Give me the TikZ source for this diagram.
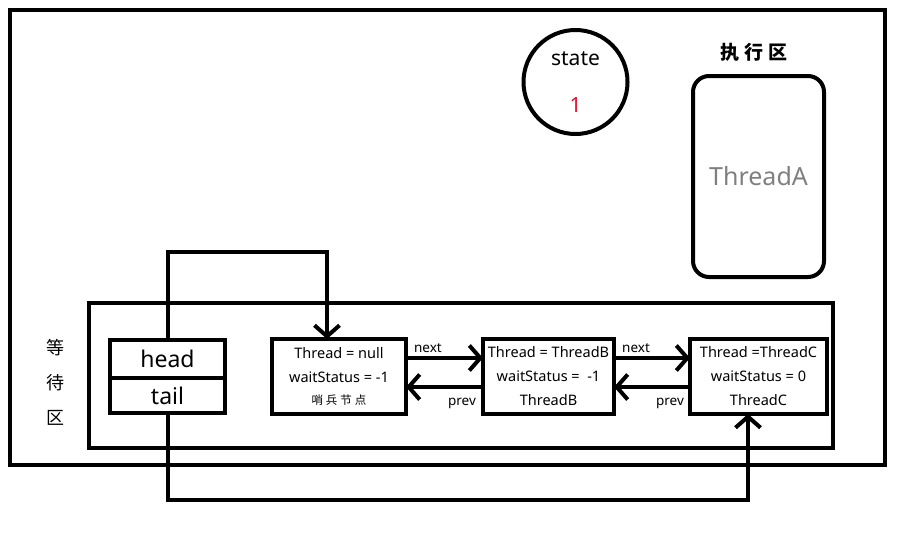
\documentclass[tikz,border=0pt]{standalone}
\usepackage{fontspec}
\setmainfont{Noto Sans}
\newfontfamily\cjk{Noto Sans CJK SC}
\usetikzlibrary{arrows.meta, positioning}
\definecolor{threadgray}{HTML}{7F7F7F}
\definecolor{statered}{HTML}{E8102A}

\begin{document}
\begin{tikzpicture}[
  x=1pt, y=-1pt,
  >={Straight Barb[length=11pt, width=25pt]},
  frame/.style={
    draw=black, line width=4pt, inner sep=0pt, outer sep=0pt
  },
  qnode/.style={
    frame, minimum height=75pt, align=center,
    font=\fontsize{14.5}{24}\selectfont
  },
  field/.style={
    frame, minimum width=115pt, font=\fontsize{23}{25}\selectfont
  },
  lbl/.style={font=\fontsize{13.5}{15}\selectfont, inner sep=0pt},
  arr/.style={->, line width=4pt, black},
]

\useasboundingbox (0,0) rectangle (901,536);

% Outer area and wait area
\node[frame, minimum width=875pt, minimum height=455pt] (outer) at (447.5,237.5) {};
\node[frame, minimum width=744pt, minimum height=145pt] (waitarea) at (461,375.5) {};
\node[font=\cjk\fontsize{18}{35}\selectfont, align=center] (waitlbl) at (55,382)
  {等\\待\\区};

% State
\node[frame, circle, minimum size=104pt, align=center,
      font=\fontsize{21}{24}\selectfont] (state) at (575.5,82)
  {state\\[23pt]\textcolor{statered}{1}};

% Running area
\node[font=\cjk\bfseries\fontsize{19}{21}\selectfont] (runlbl) at (754,52)
  {执\hspace{5pt}行\hspace{5pt}区};
\node[frame, rounded corners=16pt, minimum width=131pt, minimum height=201pt,
      text=threadgray, font=\fontsize{25}{27}\selectfont] (running) at (758.5,176.5)
  {ThreadA};

% ===== Queue head / tail =====
\node[field, minimum height=38pt] (head) at (167.5,359) {head};
\node[field, minimum height=35pt, below=0pt of head] (tail) {tail};

% ===== Queue nodes =====
\node[qnode, minimum width=134pt] (sentinel) at (339,376.5)
  {Thread = null\\waitStatus = -1\\[-2pt]
   {\cjk\fontsize{11.5}{13}\selectfont 哨\hspace{3pt}兵\hspace{3pt}节\hspace{3pt}点}};
\node[qnode, minimum width=131pt] (nodeB) at (548.5,376.5)
  {Thread = ThreadB\\waitStatus =~~-1\\ThreadB};
\node[qnode, minimum width=137pt] (nodeC) at (758.5,376.5)
  {Thread =ThreadC\\waitStatus = 0\\ThreadC};

% ===== Arrows =====
\draw[arr] ([yshift=-19pt]sentinel.north east) -- ([yshift=-19pt]nodeB.north west);
\draw[arr] ([yshift=-48pt]nodeB.north west) -- ([yshift=-48pt]sentinel.north east);
\draw[arr] ([yshift=-19pt]nodeB.north east) -- ([yshift=-19pt]nodeC.north west);
\draw[arr] ([yshift=-48pt]nodeC.north west) -- ([yshift=-48pt]nodeB.north east);

\node[lbl] (next1) at (428,348) {next};
\node[lbl] (prev1) at (462,403) {prev};
\node[lbl] (next2) at (636,348) {next};
\node[lbl] (prev2) at (670,403) {prev};

\draw[arr] (head.north) -- ++(0,-88) -| ([xshift=-12pt]sentinel.north);
\draw[arr] (tail.south) -- ++(0,87) -| ([xshift=-10.5pt]nodeC.south);

\end{tikzpicture}
\end{document}
